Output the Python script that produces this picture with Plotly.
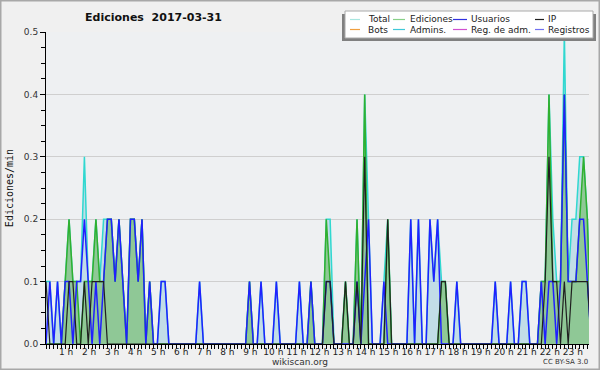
import plotly.graph_objects as go

# 10-minute bins (edits per minute), one row per hour
total = [
    0.1, 0.1, 0.0, 0.1, 0.0, 0.1,
    0.2, 0.1, 0.1, 0.1, 0.3, 0.1,
    0.1, 0.2, 0.1, 0.2, 0.2, 0.2,
    0.1, 0.2, 0.1, 0.0, 0.2, 0.2,
    0.1, 0.2, 0.0, 0.1, 0.0, 0.0,
    0.1, 0.1, 0.0, 0.0, 0.0, 0.0,
    0.0, 0.0, 0.0, 0.0, 0.1, 0.0,
    0.0, 0.0, 0.0, 0.0, 0.0, 0.0,
    0.0, 0.0, 0.0, 0.0, 0.0, 0.1,
    0.0, 0.0, 0.1, 0.0, 0.0, 0.0,
    0.1, 0.0, 0.0, 0.0, 0.0, 0.0,
    0.1, 0.0, 0.0, 0.1, 0.0, 0.0,
    0.0, 0.2, 0.2, 0.0, 0.0, 0.0,
    0.1, 0.0, 0.0, 0.2, 0.0, 0.4,
    0.2, 0.0, 0.0, 0.0, 0.1, 0.2,
    0.0, 0.0, 0.0, 0.0, 0.0, 0.2,
    0.0, 0.2, 0.0, 0.0, 0.2, 0.1,
    0.2, 0.1, 0.1, 0.0, 0.0, 0.1,
    0.0, 0.0, 0.0, 0.0, 0.0, 0.0,
    0.0, 0.0, 0.0, 0.1, 0.0, 0.0,
    0.0, 0.1, 0.0, 0.0, 0.1, 0.1,
    0.0, 0.0, 0.0, 0.1, 0.1, 0.4,
    0.2, 0.1, 0.1, 0.5, 0.1, 0.2,
    0.2, 0.3, 0.3, 0.2, 0.0, 0.0,
]
ediciones = [
    0.0, 0.0, 0.0, 0.0, 0.0, 0.1,
    0.2, 0.1, 0.1, 0.0, 0.1, 0.1,
    0.1, 0.2, 0.1, 0.1, 0.2, 0.2,
    0.1, 0.2, 0.1, 0.0, 0.2, 0.2,
    0.1, 0.2, 0.0, 0.1, 0.0, 0.0,
    0.0, 0.0, 0.0, 0.0, 0.0, 0.0,
    0.0, 0.0, 0.0, 0.0, 0.0, 0.0,
    0.0, 0.0, 0.0, 0.0, 0.0, 0.0,
    0.0, 0.0, 0.0, 0.0, 0.0, 0.1,
    0.0, 0.0, 0.0, 0.0, 0.0, 0.0,
    0.0, 0.0, 0.0, 0.0, 0.0, 0.0,
    0.0, 0.0, 0.0, 0.1, 0.0, 0.0,
    0.0, 0.2, 0.1, 0.0, 0.0, 0.0,
    0.1, 0.0, 0.0, 0.2, 0.0, 0.4,
    0.0, 0.0, 0.0, 0.0, 0.0, 0.2,
    0.0, 0.0, 0.0, 0.0, 0.0, 0.0,
    0.0, 0.0, 0.0, 0.0, 0.0, 0.0,
    0.0, 0.1, 0.1, 0.0, 0.0, 0.0,
    0.0, 0.0, 0.0, 0.0, 0.0, 0.0,
    0.0, 0.0, 0.0, 0.0, 0.0, 0.0,
    0.0, 0.0, 0.0, 0.0, 0.0, 0.0,
    0.0, 0.0, 0.0, 0.1, 0.1, 0.4,
    0.1, 0.1, 0.1, 0.4, 0.1, 0.1,
    0.1, 0.2, 0.3, 0.2, 0.0, 0.0,
]
usuarios = [
    0.0, 0.1, 0.0, 0.1, 0.0, 0.1,
    0.1, 0.0, 0.1, 0.1, 0.2, 0.1,
    0.0, 0.1, 0.0, 0.1, 0.2, 0.2,
    0.1, 0.2, 0.1, 0.0, 0.2, 0.2,
    0.1, 0.2, 0.0, 0.1, 0.0, 0.0,
    0.1, 0.1, 0.0, 0.0, 0.0, 0.0,
    0.0, 0.0, 0.0, 0.0, 0.1, 0.0,
    0.0, 0.0, 0.0, 0.0, 0.0, 0.0,
    0.0, 0.0, 0.0, 0.0, 0.0, 0.1,
    0.0, 0.0, 0.1, 0.0, 0.0, 0.0,
    0.1, 0.0, 0.0, 0.0, 0.0, 0.0,
    0.1, 0.0, 0.0, 0.1, 0.0, 0.0,
    0.0, 0.1, 0.1, 0.0, 0.0, 0.0,
    0.0, 0.0, 0.0, 0.1, 0.0, 0.1,
    0.2, 0.0, 0.0, 0.0, 0.1, 0.0,
    0.0, 0.0, 0.0, 0.0, 0.0, 0.2,
    0.0, 0.2, 0.0, 0.0, 0.2, 0.1,
    0.2, 0.0, 0.0, 0.0, 0.0, 0.1,
    0.0, 0.0, 0.0, 0.0, 0.0, 0.0,
    0.0, 0.0, 0.0, 0.1, 0.0, 0.0,
    0.0, 0.1, 0.0, 0.0, 0.1, 0.1,
    0.0, 0.0, 0.0, 0.1, 0.0, 0.1,
    0.1, 0.0, 0.1, 0.4, 0.1, 0.1,
    0.1, 0.2, 0.2, 0.1, 0.0, 0.0,
]
ip = [
    0.1, 0.0, 0.0, 0.0, 0.0, 0.0,
    0.1, 0.1, 0.0, 0.0, 0.1, 0.0,
    0.1, 0.1, 0.1, 0.1, 0.0, 0.0,
    0.0, 0.0, 0.0, 0.0, 0.0, 0.0,
    0.0, 0.0, 0.0, 0.0, 0.0, 0.0,
    0.0, 0.0, 0.0, 0.0, 0.0, 0.0,
    0.0, 0.0, 0.0, 0.0, 0.0, 0.0,
    0.0, 0.0, 0.0, 0.0, 0.0, 0.0,
    0.0, 0.0, 0.0, 0.0, 0.0, 0.0,
    0.0, 0.0, 0.0, 0.0, 0.0, 0.0,
    0.0, 0.0, 0.0, 0.0, 0.0, 0.0,
    0.0, 0.0, 0.0, 0.0, 0.0, 0.0,
    0.0, 0.1, 0.1, 0.0, 0.0, 0.0,
    0.1, 0.0, 0.0, 0.1, 0.0, 0.3,
    0.0, 0.0, 0.0, 0.0, 0.0, 0.2,
    0.0, 0.0, 0.0, 0.0, 0.0, 0.0,
    0.0, 0.0, 0.0, 0.0, 0.0, 0.0,
    0.0, 0.1, 0.1, 0.0, 0.0, 0.0,
    0.0, 0.0, 0.0, 0.0, 0.0, 0.0,
    0.0, 0.0, 0.0, 0.0, 0.0, 0.0,
    0.0, 0.0, 0.0, 0.0, 0.0, 0.0,
    0.0, 0.0, 0.0, 0.0, 0.1, 0.3,
    0.1, 0.1, 0.0, 0.1, 0.0, 0.1,
    0.1, 0.1, 0.1, 0.1, 0.0, 0.0,
]
hour_ticks = list(range(1, 24))
hour_labels = [f"{h} h" for h in hour_ticks]
legend_rows = [["Total", "Ediciones", "Usuarios", "IP"],
               ["Bots", "Admins.", "Reg. de adm.", "Registros"]]
legend_colors = [["#a8e6e0", "#88d088", "#3030e0", "#202020"],
                 ["#f0a040", "#40c8d8", "#d050d0", "#7070f0"]]

x = [i / 6 for i in range(len(total))]

fig = go.Figure()
fig.add_trace(go.Scatter(x=x, y=total, mode="lines", fill="tozeroy",
                         fillcolor="rgba(170,210,225,0.65)",
                         line=dict(color="#30d8d0", width=1.5), showlegend=False))
fig.add_trace(go.Scatter(x=x, y=ediciones, mode="lines", fill="tozeroy",
                         fillcolor="rgba(130,195,130,0.8)",
                         line=dict(color="#30b030", width=1.5), showlegend=False))
fig.add_trace(go.Scatter(x=x, y=usuarios, mode="lines",
                         line=dict(color="#2020ff", width=1.5), showlegend=False))
fig.add_trace(go.Scatter(x=x, y=ip, mode="lines",
                         line=dict(color="#202020", width=1.2), showlegend=False))

W, H = 600, 370
L, R, T, B = 46, 11, 32, 26
pw, ph = W - L - R, H - T - B

def px(xp):
    return (xp - L) / pw

def py(yp):
    return 1 - (yp - T) / ph

shapes = [
    dict(type="rect", xref="paper", yref="paper", x0=px(0.5), x1=px(W - 0.5),
         y0=py(H - 0.5), y1=py(0.5), line=dict(color="#a8a8a8", width=2),
         fillcolor="rgba(0,0,0,0)", layer="above"),
    dict(type="rect", xref="paper", yref="paper", x0=px(342), x1=px(596),
         y0=py(41), y1=py(14), line=dict(width=0), fillcolor="#808080", layer="above"),
    dict(type="rect", xref="paper", yref="paper", x0=px(345), x1=px(593),
         y0=py(38), y1=py(11), line=dict(color="#aaaaaa", width=1),
         fillcolor="#ffffff", layer="above"),
]
annotations = []
col_sym = [(350, 360), (393, 405), (453, 467), (535, 544)]
col_txt = [366, 408, 469, 546]
row_y = [19.5, 29.5]
for r, row in enumerate(legend_rows):
    for c, name in enumerate(row):
        shapes.append(dict(type="line", xref="paper", yref="paper",
                           x0=px(col_sym[c][0]), x1=px(col_sym[c][1]),
                           y0=py(row_y[r]), y1=py(row_y[r]),
                           line=dict(color=legend_colors[r][c], width=1.2), layer="above"))
        annotations.append(dict(text=name, xref="paper", yref="paper",
                                x=px(col_txt[c]), y=py(row_y[r]), xanchor="left",
                                yanchor="middle", showarrow=False,
                                font=dict(family="DejaVu Sans", size=9, color="#222")))
annotations.append(dict(text="wikiscan.org", xref="paper", yref="paper",
                        x=px(300), y=py(362), xanchor="center", yanchor="middle",
                        showarrow=False, font=dict(family="DejaVu Sans", size=9, color="#333")))
annotations.append(dict(text="CC BY-SA 3.0", xref="paper", yref="paper",
                        x=px(590), y=py(362), xanchor="right", yanchor="middle",
                        showarrow=False, font=dict(family="DejaVu Sans", size=7, color="#333")))

fig.update_layout(
    width=W, height=H,
    margin=dict(l=L, r=R, t=T, b=B, autoexpand=False),
    paper_bgcolor="#f0f0f0", plot_bgcolor="#eef0f2",
    title=dict(text="Ediciones\u00a0 2017-03-31", x=px(153.5), xref="paper",
               xanchor="center", y=1 - 17 / H, yref="container", yanchor="middle",
               font=dict(family="DejaVu Sans", size=11, color="#111", weight="bold")),
    shapes=shapes, annotations=annotations,
    xaxis=dict(range=[0, 23.57], tickvals=hour_ticks, ticktext=hour_labels,
               ticks="outside", ticklen=4, tickcolor="#000", showgrid=False,
               showline=True, linecolor="#000", linewidth=1, zeroline=False,
               automargin=False,
               tickfont=dict(family="DejaVu Sans", size=9, color="#222"),
               ticklabelshift=-3, ticklabelstandoff=-5,
               minor=dict(dtick=1 / 6, tick0=0, ticks="outside", ticklen=4,
                          tickcolor="#000", showgrid=False)),
    yaxis=dict(range=[0, 0.5], dtick=0.1, tickformat=".1f", ticks="outside",
               ticklen=5, tickcolor="#000", showline=True, linecolor="#000",
               linewidth=1, gridcolor="#cfcfcf", zeroline=False, automargin=False,
               tickfont=dict(family="DejaVu Sans", size=9, color="#333"),
               title=dict(text="Ediciones/min", standoff=8,
                          font=dict(family="DejaVu Sans Mono", size=10, color="#111")),
               minor=dict(dtick=0.025, ticks="outside", ticklen=4, tickcolor="#000",
                          showgrid=False)),
)

fig.write_html("out.html", post_script="document.body.style.margin='0';",
               config={"displayModeBar": False})
